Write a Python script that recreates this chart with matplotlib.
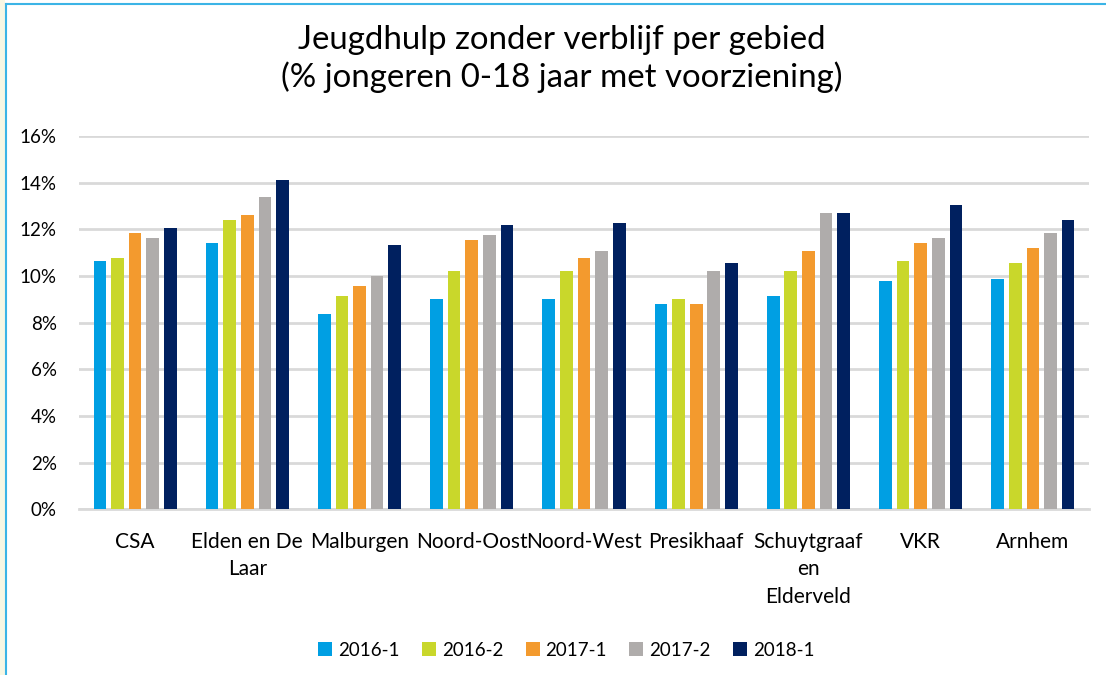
import numpy as np
import matplotlib.pyplot as plt
from matplotlib.patches import Rectangle
from matplotlib.ticker import PercentFormatter

plt.rcParams['font.family'] = ['Lato', 'DejaVu Sans']

gebieden = ['CSA', 'Elden en De\nLaar', 'Malburgen', 'Noord-Oost', 'Noord-West',
            'Presikhaaf', 'Schuytgraaf\nen\nElderveld', 'VKR', 'Arnhem']
perioden = ['2016-1', '2016-2', '2017-1', '2017-2', '2018-1']
kleuren = ['#009FE3', '#C9D72B', '#F39A2E', '#AFACAB', '#00205F']

# % jongeren 0-18 jaar met jeugdhulp zonder verblijf
p2016_1 = [10.64, 11.41, 8.37, 9.01, 9.01, 8.81, 9.14, 9.79, 9.89]
p2016_2 = [10.77, 12.40, 9.14, 10.21, 10.21, 9.01, 10.21, 10.64, 10.54]
p2017_1 = [11.84, 12.60, 9.57, 11.53, 10.77, 8.81, 11.09, 11.41, 11.20]
p2017_2 = [11.63, 13.37, 10.01, 11.74, 11.09, 10.21, 12.71, 11.63, 11.84]
p2018_1 = [12.06, 14.13, 11.31, 12.17, 12.27, 10.54, 12.71, 13.04, 12.40]
reeksen = [p2016_1, p2016_2, p2017_1, p2017_2, p2018_1]

fig = plt.figure(figsize=(11.06, 6.75), dpi=100)
ax = fig.add_axes([0.0714, 0.2455, 0.9132, 0.553])

x = np.arange(len(gebieden))
stap = 0.157
breedte = 0.113
for i, (naam, waarden, kleur) in enumerate(zip(perioden, reeksen, kleuren)):
    ax.bar(x + (i - 2) * stap, waarden, breedte, color=kleur, label=naam, zorder=3)

ax.set_xlim(-0.5, len(gebieden) - 0.5)
ax.set_ylim(0, 16)
ax.set_yticks(range(0, 17, 2))
ax.yaxis.set_major_formatter(PercentFormatter(decimals=0))
ax.grid(axis='y', color='#D9D9D9', linewidth=2, zorder=0)
for s in ['top', 'right', 'left']:
    ax.spines[s].set_visible(False)
ax.spines['bottom'].set_color('#D9D9D9')
ax.spines['bottom'].set_linewidth(2)
ax.tick_params(axis='both', length=0, labelsize=13.5, colors='#000000')
ax.tick_params(axis='y', pad=16)
ax.tick_params(axis='x', pad=16, labelsize=15)
ax.set_xticks(x)
ax.set_xticklabels(gebieden, va='top', linespacing=1.48)

fig.text(0.508, 0.912, 'Jeugdhulp zonder verblijf per gebied\n(% jongeren 0-18 jaar met voorziening)',
         ha='center', va='center', fontsize=23.8, linespacing=1.25)

fig.legend(loc='center', bbox_to_anchor=(0.512, 0.037), ncol=5, frameon=False,
           fontsize=13.5, handlelength=0.75, handleheight=0.75, handletextpad=0.3,
           columnspacing=1.2)

# rand van het kader
fig.patches.append(Rectangle((0, 0), 0.0045, 1, transform=fig.transFigure,
                             facecolor='#F7F7E4', edgecolor='none'))
fig.lines.append(plt.Line2D([0.0055, 0.0055], [0, 0.994], transform=fig.transFigure,
                            color='#3BB4E6', linewidth=1.5))
fig.lines.append(plt.Line2D([0.0055, 1], [0.994, 0.994], transform=fig.transFigure,
                            color='#3BB4E6', linewidth=1.5))

fig.savefig('out.png', dpi=100)
